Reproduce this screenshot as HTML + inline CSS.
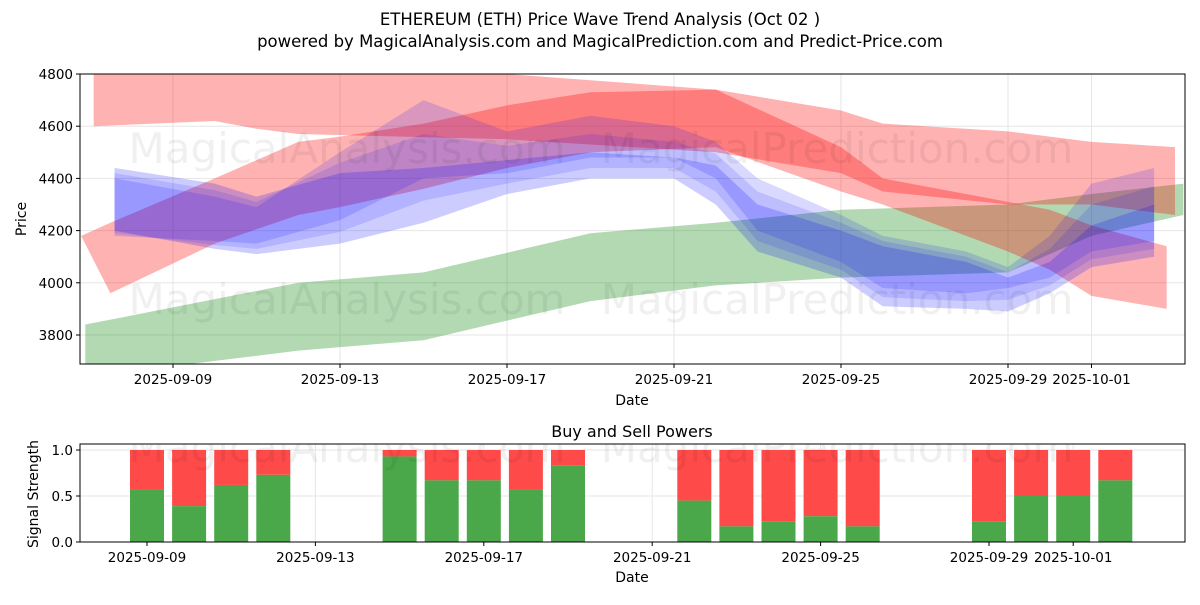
<!DOCTYPE html>
<html><head><meta charset="utf-8"><style>
body{margin:0;background:#fff;font-family:"Liberation Sans","DejaVu Sans",sans-serif;}
svg text{font-family:"DejaVu Sans","Liberation Sans",sans-serif;}
</style></head><body>
<svg id="c" width="1200" height="600" viewBox="0 0 1200 600">
<text x="600" y="25" text-anchor="middle" font-size="16.5">ETHEREUM (ETH) Price Wave Trend Analysis (Oct 02 )</text>
<text x="600" y="47" text-anchor="middle" font-size="16.5">powered by MagicalAnalysis.com and MagicalPrediction.com and Predict-Price.com</text>
<g id="topPanel"></g>
<g id="botPanel"></g>
</svg>
<script>
// days offset from 2025-09-09
const tickLabels=["2025-09-09","2025-09-13","2025-09-17","2025-09-21","2025-09-25","2025-09-29","2025-10-01"];
const tickDays=[0,4,8,12,16,20,22];
const yTicks=[3800,4000,4200,4400,4600,4800];
const redTopDays=[-1.9,1,2,3,8,13,16,17,20,22,24];
const redTopUpper=[4820,4820,4820,4820,4800,4740,4660,4610,4580,4540,4520];
const redTopLower=[4600,4620,4590,4570,4550,4500,4420,4350,4300,4300,4260];
const redBDays=[-2.2,-1.5,1,3,4,6,8,10,13,16,17,20,21,22,23.8];
const redBUpper=[4180,4230,4400,4540,4560,4610,4680,4730,4740,4520,4400,4310,4280,4220,4140];
const redBLower=[4180,3960,4150,4260,4290,4360,4440,4500,4520,4350,4300,4120,4050,3950,3900];
const greenDays=[-2.1,3,6,10,13,16,20,22,24.2];
const greenUpper=[3840,4000,4040,4190,4230,4280,4300,4340,4380];
const greenLower=[3640,3740,3780,3930,3990,4020,4040,4180,4260];
const blueDays=[-1.4,1,2,4,6,8,10,12,13,14,16,17,19,20,21,22,23.5];
const blueAUpper=[4440,4380,4330,4420,4440,4470,4500,4480,4450,4300,4200,4140,4080,4020,4080,4220,4300];
const blueALower=[4200,4130,4110,4150,4230,4340,4400,4400,4300,4120,4020,3910,3900,3890,3960,4060,4100];
const blueBUpper=[4400,4330,4290,4500,4700,4580,4640,4600,4540,4400,4260,4180,4120,4060,4180,4380,4440];
const blueBLower=[4180,4160,4150,4240,4400,4420,4480,4480,4400,4200,4080,3980,3960,3980,4020,4120,4160];
const buyDays=[0,1,2,3,6,7,8,9,10,13,14,15,16,17,20,21,22,23];
const buyVals=[0.57,0.39,0.62,0.73,0.93,0.67,0.67,0.57,0.83,0.45,0.17,0.22,0.28,0.17,0.22,0.5,0.5,0.67];

const NS="http://www.w3.org/2000/svg";
function mk(p,t,a){const e=document.createElementNS(NS,t);for(const k in a)e.setAttribute(k,a[k]);p.appendChild(e);return e;}
const gTop=document.getElementById('topPanel'),gBot=document.getElementById('botPanel');
const L=80,R=1185,T1=74,B1=364,T2=444,B2=542;
const FS=13.5;
const xT=d=>173+d*41.75, yT=v=>335-(v-3800)*(261/1000);
const xB=d=>147+d*42.1, yB=v=>542-v*92;
mk(gTop,'rect',{x:L,y:T1,width:R-L,height:B1-T1,fill:'#fff'});
const clip=mk(gTop,'clipPath',{id:'cp'});mk(clip,'rect',{x:L,y:T1,width:R-L,height:B1-T1});
const plot=mk(gTop,'g',{'clip-path':'url(#cp)'});
tickDays.forEach(d=>mk(plot,'line',{x1:xT(d),x2:xT(d),y1:T1,y2:B1,stroke:'#e6e6e6'}));
yTicks.forEach(v=>mk(plot,'line',{x1:L,x2:R,y1:yT(v),y2:yT(v),stroke:'#e6e6e6'}));
function band(days,up,lo,fill,op,name){
  let pts=days.map((d,i)=>xT(d)+','+yT(up[i]));
  for(let i=days.length-1;i>=0;i--)pts.push(xT(days[i])+','+yT(lo[i]));
  const e=mk(plot,'polygon',{points:pts.join(' '),fill:fill,'fill-opacity':op});
  
  
}
band(greenDays,greenUpper,greenLower,'#008000',0.3,'green-band');
band(redTopDays,redTopUpper,redTopLower,'#ff0000',0.3,'red-band-upper');
band(redBDays,redBUpper,redBLower,'#ff0000',0.3,'red-band-wave');
band(blueDays,blueAUpper,blueALower,'#0000ff',0.2,'blue-band-a');
band(blueDays,blueBUpper,blueBLower,'#0000ff',0.15,'blue-band-b');
band(blueDays,blueAUpper.map((v,i)=>(v+blueBUpper[i])/2),blueALower.map((v,i)=>(v+blueBLower[i])/2),'#0000ff',0.12,'blue-band-c');
['MagicalAnalysis.com','MagicalPrediction.com'].forEach((t,i)=>{
  mk(plot,'text',{x:i?837:347,y:163,'text-anchor':'middle','font-size':42,fill:'#000','fill-opacity':0.06}).textContent=t;
  mk(plot,'text',{x:i?837:347,y:314,'text-anchor':'middle','font-size':42,fill:'#000','fill-opacity':0.06}).textContent=t;
});
mk(gTop,'rect',{x:L,y:T1,width:R-L,height:B1-T1,fill:'none',stroke:'#000','stroke-width':1});
tickDays.forEach((d,i)=>{mk(gTop,'line',{x1:xT(d),x2:xT(d),y1:B1,y2:B1+4,stroke:'#000'});
  const t=mk(gTop,'text',{x:xT(d),y:B1+20,'text-anchor':'middle','font-size':FS});t.textContent=tickLabels[i];
  
  });
yTicks.forEach(v=>{mk(gTop,'line',{x1:L-4,x2:L,y1:yT(v),y2:yT(v),stroke:'#000'});
  const t=mk(gTop,'text',{x:L-7,y:yT(v)+5,'text-anchor':'end','font-size':FS});t.textContent=v;});
mk(gTop,'text',{x:632,y:405,'text-anchor':'middle','font-size':14}).textContent='Date';
mk(gTop,'text',{x:26,y:219,'text-anchor':'middle','font-size':14,transform:'rotate(-90 26 219)'}).textContent='Price';
mk(gBot,'text',{x:632,y:437,'text-anchor':'middle','font-size':16}).textContent='Buy and Sell Powers';
const c2=mk(gBot,'clipPath',{id:'cp2'});mk(c2,'rect',{x:L,y:T2,width:R-L,height:B2-T2});
const p2=mk(gBot,'g',{'clip-path':'url(#cp2)'});
tickDays.forEach(d=>mk(p2,'line',{x1:xB(d),x2:xB(d),y1:T2,y2:B2,stroke:'#e6e6e6'}));
[0,0.5,1].forEach(v=>mk(p2,'line',{x1:L,x2:R,y1:yB(v),y2:yB(v),stroke:'#e6e6e6'}));
buyDays.forEach((d,i)=>{
  const s=mk(p2,'rect',{x:xB(d)-17,y:yB(1),width:34,height:yB(buyVals[i])-yB(1),fill:'#ff4a4a'});
  
  
  const b=mk(p2,'rect',{x:xB(d)-17,y:yB(buyVals[i]),width:34,height:yB(0)-yB(buyVals[i]),fill:'#4aa84a'});
  
  
});
['MagicalAnalysis.com','MagicalPrediction.com'].forEach((t,i)=>{
  mk(p2,'text',{x:i?837:347,y:462,'text-anchor':'middle','font-size':42,fill:'#000','fill-opacity':0.06}).textContent=t;});
mk(gBot,'rect',{x:L,y:T2,width:R-L,height:B2-T2,fill:'none',stroke:'#000'});
tickDays.forEach((d,i)=>{mk(gBot,'line',{x1:xB(d),x2:xB(d),y1:B2,y2:B2+4,stroke:'#000'});
  mk(gBot,'text',{x:xB(d),y:B2+20,'text-anchor':'middle','font-size':FS}).textContent=tickLabels[i];});
[[0,'0.0'],[0.5,'0.5'],[1,'1.0']].forEach(([v,l])=>{mk(gBot,'line',{x1:L-4,x2:L,y1:yB(v),y2:yB(v),stroke:'#000'});
  mk(gBot,'text',{x:L-7,y:yB(v)+5,'text-anchor':'end','font-size':FS}).textContent=l;});
mk(gBot,'text',{x:632,y:582,'text-anchor':'middle','font-size':14}).textContent='Date';
mk(gBot,'text',{x:38,y:494,'text-anchor':'middle','font-size':14,transform:'rotate(-90 38 494)'}).textContent='Signal Strength';
</script>
</body></html>
